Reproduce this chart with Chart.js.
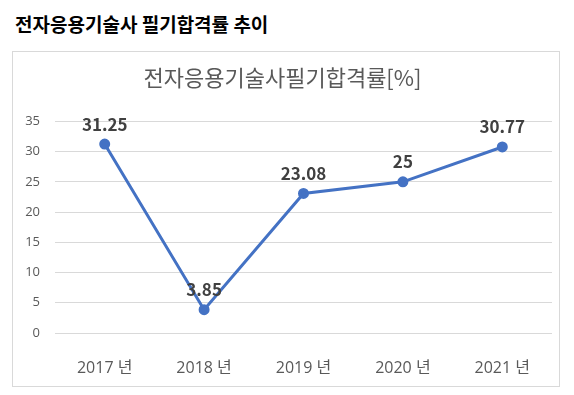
<!DOCTYPE html>
<html>
<head>
<meta charset="utf-8">
<script src="https://cdn.jsdelivr.net/npm/chart.js@4"></script>
<style>
  body { margin: 0; background: #fff; }
  #heading {
    position: absolute; left: 15px; top: 10px;
    font: bold 19px "Noto Sans CJK KR", sans-serif; color: #000;
  }
  #box {
    position: absolute; left: 12px; top: 51px;
    width: 546px; height: 334px; border: 1px solid #d9d9d9;
  }
</style>
</head>
<body>
<div id="heading">전자응용기술사 필기합격률 추이</div>
<div id="box"><canvas id="chart" width="546" height="334"></canvas></div>
<script>
const years = ["2017 년", "2018 년", "2019 년", "2020 년", "2021 년"];
const passRates = [31.25, 3.85, 23.08, 25, 30.77];
const rateLabels = ["31.25", "3.85", "23.08", "25", "30.77"];

const FONT = "'Noto Sans CJK KR', sans-serif";
const TICK_FONT = "'Open Sans', 'Noto Sans CJK KR', sans-serif";

// draws the value above each point, like Excel data labels
const valueLabels = {
    id: "valueLabels",
    afterDatasetsDraw(chart) {
        const ctx = chart.ctx;
        const meta = chart.getDatasetMeta(0);
        ctx.save();
        ctx.font = "bold 17px " + FONT;
        ctx.fillStyle = "#404040";
        ctx.textAlign = "center";
        ctx.textBaseline = "middle";
        meta.data.forEach((pt, i) => {
            ctx.fillText(rateLabels[i], pt.x, pt.y - 20);
        });
        ctx.restore();
    }
};

new Chart(document.getElementById("chart"), {
    type: "line",
    data: {
        labels: years,
        datasets: [{
            data: passRates,
            borderColor: "#4472C4",
            backgroundColor: "#4472C4",
            borderWidth: 3,
            pointRadius: 4,
            tension: 0
        }]
    },
    options: {
        responsive: false,
        animation: false,
        layout: { padding: { left: 0, right: 7, bottom: 0 } },
        plugins: {
            legend: { display: false },
            tooltip: { enabled: false },
            title: {
                display: true,
                text: "전자응용기술사필기합격률[%]",
                color: "#595959",
                font: { family: FONT, size: 22, weight: "normal" },
                padding: { top: 12, bottom: 31 }
            }
        },
        scales: {
            x: {
                offset: true,
                grid: { display: false },
                border: { display: false },
                ticks: { color: "#595959", font: { family: TICK_FONT, size: 16 }, padding: 18 },
                afterFit(scale) { scale.height = 53; }
            },
            y: {
                min: 0,
                max: 35,
                ticks: { stepSize: 5, color: "#595959", font: { family: TICK_FONT, size: 13 }, padding: 15 },
                grid: { color: "#d9d9d9", drawTicks: false },
                border: { display: false },
                afterFit(scale) { scale.width = 42; }
            }
        }
    },
    plugins: [valueLabels]
});
</script>
</body>
</html>
